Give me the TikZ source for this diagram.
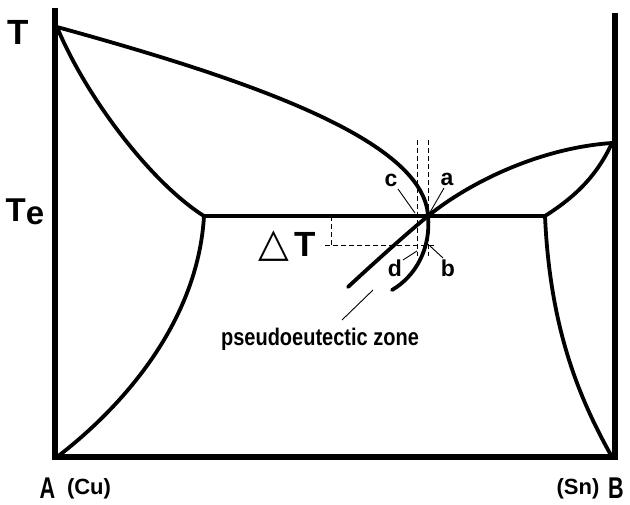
\documentclass[tikz,border=0pt]{standalone}
\usepackage{fontspec}
\setmainfont{Liberation Sans}
\newfontfamily\dejavu{DejaVu Sans}
\usepackage{graphicx}
\begin{document}
\begin{tikzpicture}[x=1pt,y=-1pt,
  curve/.style={line width=3.8pt,line cap=round,line join=round},
  axis/.style={line width=6pt},
  eut/.style={line width=3.8pt},
  leader/.style={line width=0.9pt},
  dashline/.style={line width=0.9pt,dash pattern=on 5pt off 3pt},
  lbl/.style={inner sep=0pt,font=\bfseries},
  foot/.style={lbl,anchor=base,text depth=0pt}]
\path[use as bounding box] (0,0) rectangle (630,505);
% key points
\coordinate (TA) at (57,27);
\coordinate (TB) at (612,143);
\coordinate (E) at (428,216);
\coordinate (L) at (204,216);
\coordinate (R) at (545,216);
\coordinate (A0) at (57,457);
\coordinate (B0) at (612,457);
\coordinate (Lend) at (392,290);
\coordinate (Rend) at (348,287);
% axes
\draw[axis] (55,8) -- (55,460);
\draw[axis] (615,13) -- (615,460);
\draw[axis] (52,457) -- (618,457);
% eutectic line
\draw[eut] (L) -- (R);
% left liquidus and extension
\draw[curve] (TA) .. controls (250,80) and (424,140) .. (E)
  .. controls (431,248) and (416,276) .. (Lend);
% left solidus
\draw[curve] (TA) .. controls (85,95) and (150,182) .. (L);
% left solvus
\draw[curve] (L) .. controls (198,320) and (125,405) .. (A0);
% right liquidus and extension
\draw[curve] (TB) .. controls (540,148) and (470,182) .. (E)
  .. controls (405,235) and (375,262) .. (Rend);
% right solidus
\draw[curve] (TB) .. controls (595,180) and (570,200) .. (R);
% right solvus
\draw[curve] (R) .. controls (550,330) and (580,400) .. (B0);
% dashed lines
\coordinate (v1t) at (417,140); \coordinate (v1b) at (417,256);
\coordinate (v2t) at (428,140); \coordinate (v2b) at (428,256);
\coordinate (hL) at (325,245); \coordinate (hR) at (436,245);
\coordinate (sv1) at (331,216); \coordinate (sv2) at (331,245);
\draw[dashline] (v1t) -- (v1b);
\draw[dashline] (v2t) -- (v2b);
\draw[dashline] (hL) -- (hR);
\draw[dashline] (sv1) -- (sv2);
% labels
\node[lbl,font=\bfseries\fontsize{35}{35}\selectfont] (T) at (18,32) {T};
\node[lbl,font=\bfseries\fontsize{33}{33}\selectfont] (Te) at (25,212) {T\raisebox{-3pt}{e}};
\node[lbl,font=\bfseries\fontsize{35}{35}\selectfont] (dT) at (287,246) {{\dejavu\mdseries\fontsize{40}{40}\selectfont △}\,T};
\node[lbl,font=\bfseries\fontsize{23}{23}\selectfont] (c) at (391,180) {c};
\node[lbl,font=\bfseries\fontsize{23}{23}\selectfont] (a) at (447,179) {a};
\node[lbl,font=\bfseries\fontsize{23}{23}\selectfont] (d) at (395,268) {d};
\node[lbl,font=\bfseries\fontsize{23}{23}\selectfont] (b) at (448,268) {b};
\node[lbl,font=\bfseries\fontsize{20}{20}\selectfont] (pz) at (320,339) {\scalebox{1}[1.2]{pseudoeutectic zone}};
\node[foot,font=\bfseries\fontsize{30}{30}\selectfont] (A) at (47.5,498) {\scalebox{0.72}[1]{A}};
\node[foot,font=\bfseries\fontsize{22}{22}\selectfont] (Cu) at (89,494) {(Cu)};
\node[foot,font=\bfseries\fontsize{22}{22}\selectfont] (Sn) at (578,494) {(Sn)};
\node[foot,font=\bfseries\fontsize{30}{30}\selectfont] (B) at (616,498) {\scalebox{0.72}[1]{B}};
% leader lines
\coordinate (ce) at (415,213);
\coordinate (ae) at (429,214);
\coordinate (de) at (417,251);
\coordinate (be) at (430,246);
\coordinate (pe) at (373,290);
\coordinate (cs) at (398,189);
\coordinate (as) at (444,188);
\coordinate (ds) at (403,260);
\coordinate (bs) at (443,258);
\coordinate (ps) at (342,320);
\draw[leader] (cs) -- (ce);
\draw[leader] (as) -- (ae);
\draw[leader] (ds) -- (de);
\draw[leader] (bs) -- (be);
\draw[leader] (ps) -- (pe);
\end{tikzpicture}
\end{document}
